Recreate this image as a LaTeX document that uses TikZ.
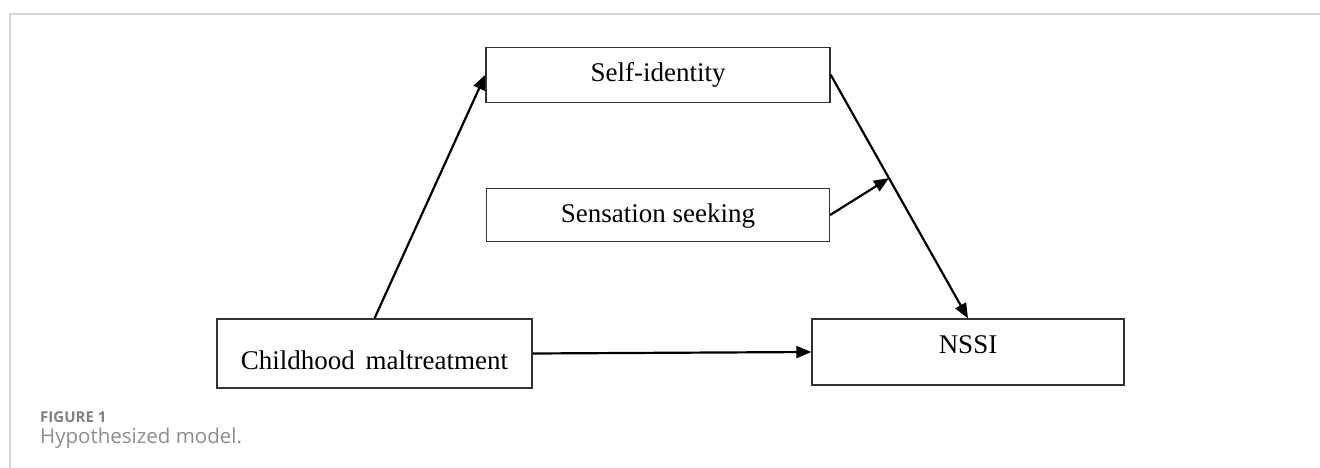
\documentclass[tikz,border=0pt]{standalone}
\usepackage{fontspec}
\setmainfont{Liberation Serif}
\newfontfamily\capfont{Open Sans}
\usetikzlibrary{arrows.meta,calc}
\definecolor{framegray}{HTML}{D4D4D4}
\definecolor{capgray}{HTML}{808080}
\definecolor{boxline}{HTML}{333333}
\tikzset{
  modelbox/.style={draw=boxline, line width=1.3pt, rectangle, inner sep=0pt,
    font=\fontsize{27}{31}\selectfont, anchor=base},
  pathar/.style={line width=2.2pt, -{Triangle[length=15pt,width=12pt]}},
  framepath/.style={draw=framegray, line width=2pt}
}
\begin{document}
\begin{tikzpicture}[x=1pt,y=-1pt]
\useasboundingbox (0,0) rectangle (1320,468);
\coordinate (f0) at (10,468);
\coordinate (f1) at (10,14);
\coordinate (f2) at (1320,14);
\draw[framepath] (f0) -- (f1) -- (f2);

\node[modelbox, minimum width=344pt, text height=34.5pt, text depth=20.5pt] (si) at (658,81.7) {Self-identity};
\node[modelbox, minimum width=343pt, text height=34.4pt, text depth=19pt] (ss) at (658,222.7) {Sensation seeking};
\node[modelbox, minimum width=315pt, text height=50pt, text depth=19pt] (cm) at (374.5,369) {Childhood\hspace{0.4em}maltreatment};
\node[modelbox, minimum width=312pt, text height=34.3pt, text depth=31.7pt] (nssi) at (968,353.3) {NSSI};

\coordinate (mod) at ($(si.east)!0.4245!(nssi.north)$);

\draw[pathar] (cm.north) -- (si.west);
\draw[pathar] (si.east) -- (nssi.north);
\draw[pathar] (ss.east) -- (mod);
\draw[pathar] (cm.east) -- (nssi.west);

\node[anchor=base west, inner sep=0pt, text=capgray, font=\capfont\bfseries\fontsize{15}{18}\selectfont] (figlab) at (40,422.7) {FIGURE 1};
\node[anchor=base west, inner sep=0pt, text=capgray!90, font=\capfont\fontsize{20.5}{24}\selectfont] (figcap) at (40,443) {Hypothesized model.};
\end{tikzpicture}
\end{document}
